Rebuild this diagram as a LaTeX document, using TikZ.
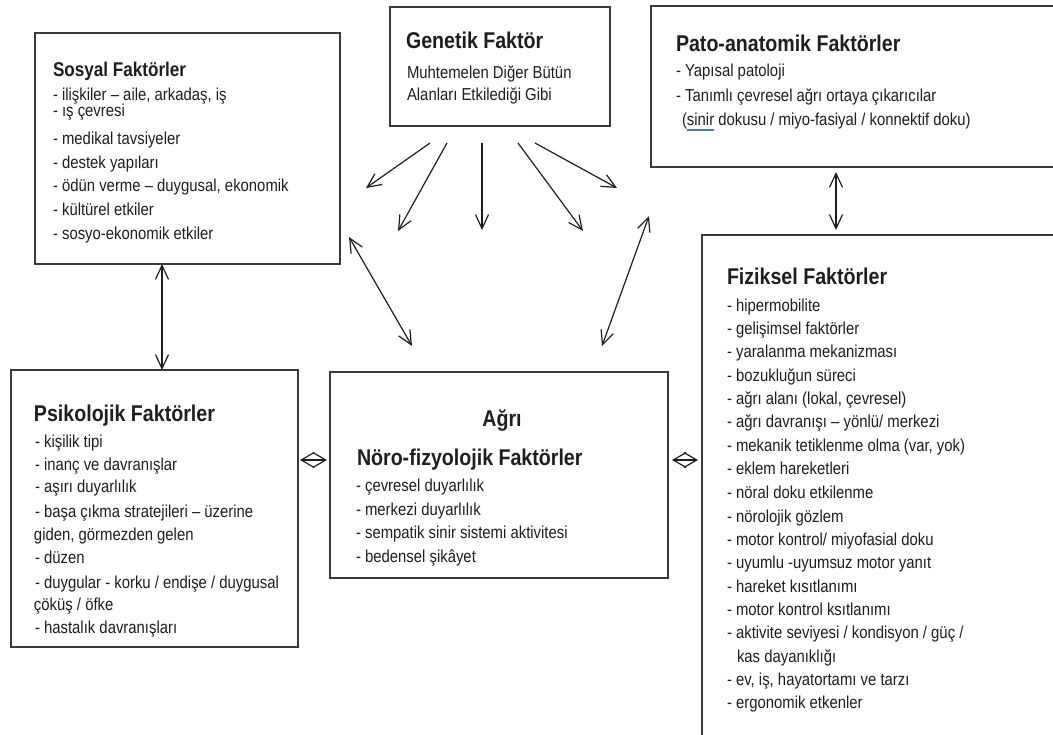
\documentclass[tikz,border=0pt]{standalone}
\usepackage{fontspec}
\setmainfont{Liberation Sans}[FakeStretch=0.86]
\usetikzlibrary{arrows.meta}
\definecolor{ink}{HTML}{1E1E1E}
\definecolor{edgec}{HTML}{3A3A3A}
\definecolor{squig}{HTML}{4A78D0}
\newsavebox{\ulbox}
\newcommand{\blueul}[1]{\sbox{\ulbox}{#1}\rlap{\textcolor{squig}{\rule[-5.3pt]{\wd\ulbox}{1.8pt}}}\usebox{\ulbox}}
\tikzset{
  box/.style={draw=edgec, line width=2pt, anchor=north west, inner sep=0pt, outer sep=0pt},
  txt/.style={anchor=base west, inner sep=0pt, outer sep=0pt, text=ink, font=\fontsize{17.3}{20}\selectfont},
  ttl/.style={txt, font=\fontsize{22.8}{26}\selectfont\bfseries},
  oneway/.style={draw=ink, line width=1.2pt, -{Straight Barb[length=14pt,width=13pt]}},
  conn/.style={draw=ink, line width=1.2pt, {Straight Barb[length=14pt,width=13pt]}-{Straight Barb[length=14pt,width=13pt]}},
  small/.style={draw=ink, line width=1.2pt, {Straight Barb[length=13pt,width=15pt]}-{Straight Barb[length=13pt,width=15pt]}}
}
\begin{document}
\begin{tikzpicture}[x=1pt,y=-1pt]
\useasboundingbox (0,0) rectangle (1053,735);
\clip (0,0) rectangle (1053,735);
\fill[white] (0,0) rectangle (1053,735);

% boxes
\node[box, minimum width=305pt, minimum height=231pt] (sos) at (35,33) {};
\node[box, minimum width=220pt, minimum height=119pt] (gen) at (390,7) {};
\node[box, minimum width=450pt, minimum height=161pt] (pato) at (651,6) {};
\node[box, minimum width=400pt, minimum height=540pt] (fiz) at (702,235) {};
\node[box, minimum width=287pt, minimum height=277pt] (psi) at (11,370) {};
\node[box, minimum width=338pt, minimum height=206pt] (agri) at (330,372) {};

% Sosyal
\node[ttl, font=\fontsize{19.9}{23}\selectfont\bfseries] (sosT) at (53,77) {Sosyal Faktörler};
\foreach \yy/\tt [count=\i] in {
  101/{- ilişkiler – aile, arkadaş, iş},
  117/{- ış çevresi},
  145/{- medikal tavsiyeler},
  169/{- destek yapıları},
  192/{- ödün verme – duygusal, ekonomik},
  216/{- kültürel etkiler},
  240/{- sosyo-ekonomik etkiler}}
  \node[txt] (sos\i) at (53,\yy) {\tt};

% Genetik
\node[ttl] (genT) at (406,49) {Genetik Faktör};
\node[txt] (gen1) at (407,79) {Muhtemelen Diğer Bütün};
\node[txt] (gen2) at (407,101) {Alanları Etkilediği Gibi};

% Pato
\node[ttl] (patoT) at (676,52) {Pato-anatomik Faktörler};
\node[txt] (pato1) at (676,77) {- Yapısal patoloji};
\node[txt] (pato2) at (676,102) {- Tanımlı çevresel ağrı ortaya çıkarıcılar};
\node[txt] (pato3) at (682,126) {(\blueul{sinir} dokusu / miyo-fasiyal / konnektif doku)};

% Fiziksel
\node[ttl] (fizT) at (727,285) {Fiziksel Faktörler};
\foreach \xx/\yy/\tt [count=\i] in {
  727/312/{- hipermobilite},
  727/335/{- gelişimsel faktörler},
  727/358/{- yaralanma mekanizması},
  727/382/{- bozukluğun süreci},
  727/405/{- ağrı alanı (lokal, çevresel)},
  727/428/{- ağrı davranışı – yönlü/ merkezi},
  727/452/{- mekanik tetiklenme olma (var, yok)},
  727/475/{- eklem hareketleri},
  727/498/{- nöral doku etkilenme},
  727/522/{- nörolojik gözlem},
  727/545/{- motor kontrol/ miyofasial doku},
  727/568/{- uyumlu -uyumsuz motor yanıt},
  727/592/{- hareket kısıtlanımı},
  727/615/{- motor kontrol ksıtlanımı},
  727/638/{- aktivite seviyesi / kondisyon / güç /},
  737/662/{kas dayanıklığı},
  727/685/{- ev, iş, hayatortamı ve tarzı},
  727/708/{- ergonomik etkenler}}
  \node[txt] (fiz\i) at (\xx,\yy) {\tt};

% Psikolojik
\node[ttl] (psiT) at (34,422) {Psikolojik Faktörler};
\foreach \xx/\yy/\tt [count=\i] in {
  35/447/{- kişilik tipi},
  35/470/{- inanç ve davranışlar},
  35/493/{- aşırı duyarlılık},
  35/517/{- başa çıkma stratejileri – üzerine},
  34/540/{giden, görmezden gelen},
  35/563/{- düzen},
  35/588/{- duygular - korku / endişe / duygusal},
  34/610/{çöküş / öfke},
  35/633/{- hastalık davranışları}}
  \node[txt] (psi\i) at (\xx,\yy) {\tt};

% Agri
\node[ttl, anchor=base] (agriT) at (502,427) {Ağrı};
\node[ttl] (agriS) at (357,465) {Nöro-fizyolojik Faktörler};
\foreach \yy/\tt [count=\i] in {
  491/{- çevresel duyarlılık},
  515/{- merkezi duyarlılık},
  538/{- sempatik sinir sistemi aktivitesi},
  562/{- bedensel şikâyet}}
  \node[txt] (agri\i) at (356,\yy) {\tt};

% connector end points
\coordinate (g1a) at (430,143); \coordinate (g1b) at (366,188);
\coordinate (g2a) at (447,143); \coordinate (g2b) at (398,231);
\coordinate (g3a) at (482,143); \coordinate (g3b) at (482,230);
\coordinate (g4a) at (518,143); \coordinate (g4b) at (583,231);
\coordinate (g5a) at (535,143); \coordinate (g5b) at (617,188);
\coordinate (d1a) at (349,237); \coordinate (d1b) at (412,346);
\coordinate (d2a) at (649,216); \coordinate (d2b) at (602,346);
\coordinate (spx) at (162,300);
\coordinate (pf1) at (836,172); \coordinate (pf2) at (836,230);
\coordinate (pa1) at (300,460); \coordinate (pa2) at (327,460);
\coordinate (af1) at (672,460); \coordinate (af2) at (698,460);

% connectors
\draw[oneway] (g1a) -- (g1b);
\draw[oneway] (g2a) -- (g2b);
\draw[oneway] (g3a) -- (g3b);
\draw[oneway] (g4a) -- (g4b);
\draw[oneway] (g5a) -- (g5b);
\draw[conn] (d1a) -- (d1b);
\draw[conn] (d2a) -- (d2b);
\draw[conn] (sos.south -| spx) -- (psi.north -| spx);
\draw[conn] (pf1) -- (pf2);
\draw[small] (pa1) -- (pa2);
\draw[small] (af1) -- (af2);
\end{tikzpicture}
\end{document}
